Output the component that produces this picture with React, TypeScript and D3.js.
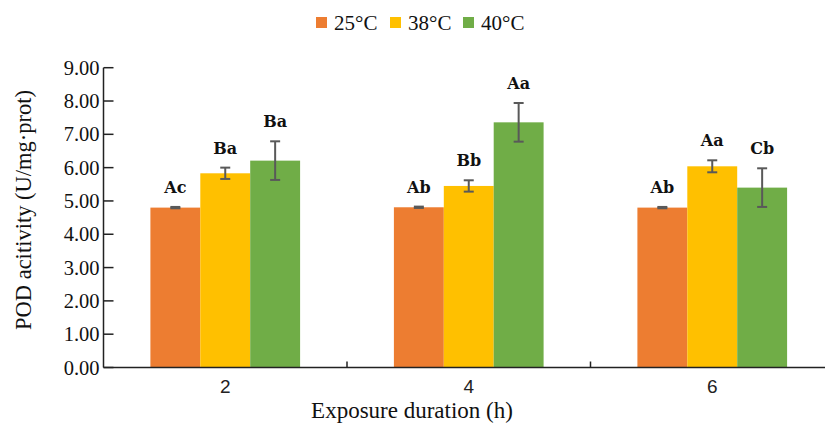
import React, { useEffect, useRef } from 'react';
import * as d3 from 'd3';

const durations = ['2', '4', '6'];
const temps = ['25°C', '38°C', '40°C'];
const colors = ['#ED7D31', '#FFC000', '#70AD47'];
// POD activity per temperature, indexed by duration
const means = [
  [4.80, 4.81, 4.80],
  [5.83, 5.45, 6.04],
  [6.21, 7.36, 5.40],
];
const errors = [
  [0.02, 0.02, 0.02],
  [0.17, 0.17, 0.18],
  [0.58, 0.58, 0.58],
];
const letters = [
  ['Ac', 'Ab', 'Ab'],
  ['Ba', 'Bb', 'Aa'],
  ['Ba', 'Aa', 'Cb'],
];
const yTicks = [0, 1, 2, 3, 4, 5, 6, 7, 8, 9];

export default function App() {
  const ref = useRef(null);

  useEffect(() => {
    const width = 825;
    const height = 427;
    const left = 103.5;
    const top = 67.7;
    const bottom = 367.5;

    const svg = d3.select(ref.current);
    svg.selectAll('*').remove();
    svg.attr('width', width).attr('height', height);

    const x0 = d3.scaleBand().domain(durations).range([left, 834]).padding(0);
    const x1 = d3.scaleBand().domain(temps).range([0, x0.bandwidth()]).paddingInner(0).paddingOuter(0.94);
    const y = d3.scaleLinear().domain([0, 9]).range([bottom, top]);

    const rows = [];
    durations.forEach((d, i) => {
      temps.forEach((t, j) => {
        rows.push({ d, t, j, v: means[j][i], e: errors[j][i], lab: letters[j][i] });
      });
    });

    // bars
    svg.append('g')
      .selectAll('rect')
      .data(rows)
      .join('rect')
      .attr('x', r => x0(r.d) + x1(r.t))
      .attr('width', x1.bandwidth())
      .attr('y', r => y(r.v))
      .attr('height', r => bottom - y(r.v))
      .attr('fill', r => colors[r.j]);

    // error bars
    const eb = svg.append('g').attr('stroke', '#595959').attr('stroke-width', 2).attr('fill', 'none');
    rows.forEach(r => {
      const cx = x0(r.d) + x1(r.t) + x1.bandwidth() / 2;
      eb.append('line').attr('x1', cx).attr('x2', cx).attr('y1', y(r.v - r.e)).attr('y2', y(r.v + r.e));
      eb.append('line').attr('x1', cx - 5).attr('x2', cx + 5).attr('y1', y(r.v - r.e)).attr('y2', y(r.v - r.e));
      eb.append('line').attr('x1', cx - 5).attr('x2', cx + 5).attr('y1', y(r.v + r.e)).attr('y2', y(r.v + r.e));
    });

    // significance letters
    svg.append('g')
      .attr('font-family', '"DejaVu Serif", serif')
      .attr('font-weight', 'bold')
      .attr('font-size', 16)
      .attr('text-anchor', 'middle')
      .attr('fill', '#111')
      .selectAll('text')
      .data(rows)
      .join('text')
      .attr('x', r => x0(r.d) + x1(r.t) + x1.bandwidth() / 2)
      .attr('y', r => y(r.v + r.e) - 14)
      .text(r => r.lab);

    // y axis
    const yAxis = svg.append('g').attr('stroke', '#222').attr('stroke-width', 1.5);
    yAxis.append('line').attr('x1', left).attr('x2', left).attr('y1', top).attr('y2', bottom);
    yTicks.forEach(t => {
      yAxis.append('line').attr('x1', left).attr('x2', left + 10).attr('y1', y(t)).attr('y2', y(t));
    });
    svg.append('g')
      .attr('font-family', '"Liberation Serif", serif')
      .attr('font-size', 20.5)
      .attr('text-anchor', 'end')
      .attr('fill', '#111')
      .selectAll('text')
      .data(yTicks)
      .join('text')
      .attr('x', left - 4)
      .attr('y', t => y(t) + 7)
      .text(t => t.toFixed(2));

    // x axis
    const xAxis = svg.append('g').attr('stroke', '#222').attr('stroke-width', 1.5);
    xAxis.append('line').attr('x1', left).attr('x2', width).attr('y1', bottom).attr('y2', bottom);
    durations.slice(1).forEach(d => {
      xAxis.append('line').attr('x1', x0(d)).attr('x2', x0(d)).attr('y1', bottom).attr('y2', bottom - 6);
    });
    svg.append('g')
      .attr('font-family', '"Liberation Sans", sans-serif')
      .attr('font-size', 19)
      .attr('text-anchor', 'middle')
      .attr('fill', '#222')
      .selectAll('text')
      .data(durations)
      .join('text')
      .attr('x', d => x0(d) + x0.bandwidth() / 2)
      .attr('y', bottom + 25)
      .text(d => d);

    // axis titles
    svg.append('text')
      .attr('x', 412)
      .attr('y', 418)
      .attr('text-anchor', 'middle')
      .attr('font-family', '"Liberation Serif", serif')
      .attr('font-size', 23)
      .attr('fill', '#111')
      .text('Exposure duration (h)');
    svg.append('text')
      .attr('transform', `translate(31,210) rotate(-90)`)
      .attr('text-anchor', 'middle')
      .attr('font-family', '"Liberation Serif", serif')
      .attr('font-size', 22.5)
      .attr('fill', '#111')
      .text('POD acitivity (U/mg·prot)');

    // legend
    const legendX = [316, 390, 463];
    const lg = svg.append('g').attr('font-family', '"Liberation Serif", serif').attr('font-size', 21).attr('fill', '#111');
    temps.forEach((t, j) => {
      lg.append('rect').attr('x', legendX[j]).attr('y', 17).attr('width', 11).attr('height', 11).attr('fill', colors[j]);
      lg.append('text').attr('x', legendX[j] + 18).attr('y', 29.5).text(t);
    });
  }, []);

  return (
    <div style={{ position: 'absolute', left: 0, top: 0 }}>
      <svg ref={ref} />
    </div>
  );
}
